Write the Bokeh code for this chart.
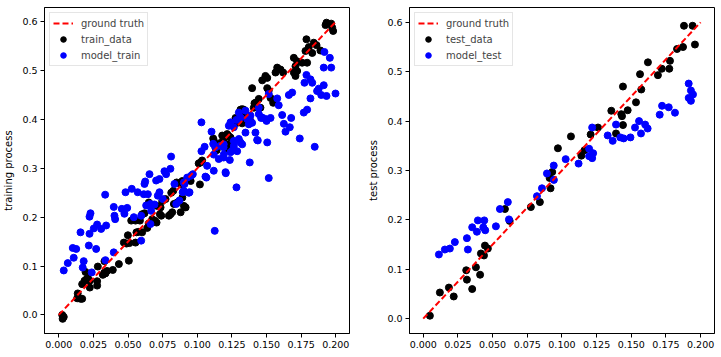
from bokeh.plotting import figure
from bokeh.layouts import row
from bokeh.models import Range1d, FixedTicker, NumeralTickFormatter, Legend, LegendItem
from bokeh.embed import file_html
from bokeh.resources import INLINE

FONT = "DejaVu Sans"

# ---------------- data ----------------
gt_x = [0.0, 0.2]
gt_y = [0.0, 0.6]

x_ticks = [0.0, 0.025, 0.05, 0.075, 0.1, 0.125, 0.15, 0.175, 0.2]
y_ticks = [0.0, 0.1, 0.2, 0.3, 0.4, 0.5, 0.6]

train_pts = [
    (0.0028, -0.008), (0.0036, -0.004), (0.0025, 0.000),
    (0.0133, 0.034), (0.0137, 0.044), (0.0157, 0.033), (0.0169, 0.033),
    (0.0169, 0.063), (0.0186, 0.070), (0.0200, 0.073), (0.0210, 0.076), (0.0224, 0.070),
    (0.0193, 0.088), (0.0224, 0.056), (0.0277, 0.060), (0.0277, 0.069), (0.0282, 0.099),
    (0.0318, 0.082), (0.0330, 0.087), (0.0337, 0.085), (0.0349, 0.090), (0.0330, 0.110),
    (0.0390, 0.092), (0.0434, 0.104), (0.0506, 0.111),
    (0.0470, 0.148), (0.0489, 0.146), (0.0499, 0.163), (0.0510, 0.147), (0.0554, 0.148),
    (0.0561, 0.169), (0.0578, 0.170), (0.0586, 0.193), (0.0602, 0.169), (0.0554, 0.193), (0.0523, 0.193),
    (0.0602, 0.206), (0.0619, 0.208), (0.0639, 0.178), (0.0650, 0.187), (0.0650, 0.230), (0.0658, 0.227),
    (0.0675, 0.196), (0.0692, 0.193), (0.0706, 0.189), (0.0711, 0.223), (0.0735, 0.220), (0.0730, 0.206),
    (0.0740, 0.203), (0.0747, 0.233), (0.0771, 0.237), (0.0795, 0.203), (0.0807, 0.206), (0.0819, 0.210),
    (0.0812, 0.250), (0.0827, 0.254), (0.0831, 0.227), (0.0855, 0.230), (0.0851, 0.271), (0.0880, 0.267),
    (0.0880, 0.210), (0.0892, 0.240), (0.0904, 0.223), (0.0916, 0.220), (0.0892, 0.274), (0.0908, 0.271),
    (0.0940, 0.278), (0.0952, 0.274), (0.1019, 0.267),
    (0.1023, 0.312), (0.1035, 0.316), (0.1120, 0.356), (0.1204, 0.346), (0.1216, 0.339), (0.1180, 0.367),
    (0.1216, 0.370), (0.1190, 0.360), (0.1240, 0.363), (0.1324, 0.392), (0.1372, 0.391), (0.1384, 0.397),
    (0.1307, 0.414), (0.1324, 0.421), (0.1413, 0.433), (0.1444, 0.442), (0.1396, 0.464), (0.1505, 0.464),
    (0.1933, 0.598), (0.1967, 0.596), (0.1926, 0.593), (0.1981, 0.581), (0.1974, 0.588),
    (0.1788, 0.564), (0.1841, 0.557), (0.1861, 0.552), (0.1805, 0.548), (0.1781, 0.540), (0.1889, 0.541),
    (0.1830, 0.536), (0.1697, 0.526), (0.1721, 0.519), (0.1757, 0.516), (0.1793, 0.516), (0.1709, 0.509),
    (0.1577, 0.506), (0.1601, 0.502), (0.1565, 0.496), (0.1620, 0.496), (0.1697, 0.496), (0.1721, 0.499),
    (0.1709, 0.489), (0.1492, 0.489), (0.1505, 0.485), (0.1469, 0.480), (0.1516, 0.459), (0.1529, 0.444),
    (0.1548, 0.434), (0.1420, 0.434), (0.1456, 0.424), (0.1408, 0.424), (0.1336, 0.420), (0.1312, 0.420),
    (0.1348, 0.410), (0.1360, 0.403), (0.1276, 0.403), (0.1288, 0.393), (0.1227, 0.366), (0.1115, 0.361),
    (0.1168, 0.352), (0.1216, 0.349), (0.1252, 0.348), (0.1131, 0.342), (0.1140, 0.337), (0.1010, 0.310),
]
train_x = [p[0] for p in train_pts]
train_y = [p[1] for p in train_pts]

model_train_pts = [
    (0.0036, 0.091), (0.0065, 0.106), (0.0108, 0.117), (0.0101, 0.137), (0.0126, 0.135), (0.0173, 0.097),
    (0.0180, 0.110), (0.0157, 0.169), (0.0217, 0.142), (0.0270, 0.135), (0.0238, 0.087), (0.0222, 0.166),
    (0.0253, 0.177), (0.0277, 0.185), (0.0306, 0.176), (0.0342, 0.183), (0.0222, 0.201), (0.0229, 0.208),
    (0.0335, 0.246), (0.0337, 0.112), (0.0397, 0.221), (0.0402, 0.203), (0.0407, 0.196), (0.0397, 0.128),
    (0.0455, 0.217), (0.0494, 0.219), (0.0474, 0.207), (0.0482, 0.251), (0.0527, 0.258), (0.0542, 0.200),
    (0.0595, 0.203), (0.0570, 0.251), (0.0614, 0.247), (0.0595, 0.152), (0.0619, 0.268), (0.0624, 0.273),
    (0.0655, 0.288), (0.0643, 0.247), (0.0631, 0.224), (0.0662, 0.227), (0.0703, 0.275), (0.0727, 0.278),
    (0.0715, 0.244), (0.0727, 0.251), (0.0751, 0.237), (0.0662, 0.186), (0.0667, 0.213), (0.0691, 0.226),
    (0.0763, 0.294), (0.0775, 0.288), (0.0806, 0.299), (0.0811, 0.324), (0.0835, 0.268), (0.0848, 0.227),
    (0.0871, 0.234), (0.0895, 0.251), (0.0908, 0.268), (0.0944, 0.251), (0.0956, 0.285), (0.0968, 0.288),
    (0.1030, 0.394), (0.1103, 0.375), (0.1030, 0.335), (0.1115, 0.350), (0.1131, 0.343), (0.1167, 0.346),
    (0.1190, 0.343), (0.1155, 0.319), (0.1190, 0.322), (0.1235, 0.317), (0.1071, 0.305), (0.1119, 0.295),
    (0.1204, 0.292), (0.1066, 0.281), (0.1283, 0.261), (0.1379, 0.312), (0.1228, 0.387), (0.1240, 0.394),
    (0.1264, 0.384), (0.1283, 0.399), (0.1300, 0.414), (0.1348, 0.418), (0.1312, 0.404), (0.1360, 0.401),
    (0.1300, 0.360), (0.1312, 0.353), (0.1264, 0.346), (0.1252, 0.336), (0.1240, 0.333), (0.1348, 0.373),
    (0.1420, 0.373), (0.1432, 0.358), (0.1384, 0.408), (0.1444, 0.411), (0.1468, 0.404), (0.1492, 0.401),
    (0.1505, 0.353), (0.1516, 0.280), (0.1516, 0.452),
    (0.1918, 0.538), (0.1957, 0.526), (0.1913, 0.506), (0.1967, 0.506), (0.1788, 0.491), (0.1774, 0.475),
    (0.1817, 0.482), (0.1830, 0.475), (0.1913, 0.470), (0.1877, 0.463), (0.1865, 0.458), (0.1933, 0.448),
    (0.1998, 0.453), (0.1895, 0.450), (0.1661, 0.450), (0.1685, 0.455), (0.1817, 0.443), (0.1577, 0.443),
    (0.1588, 0.429), (0.1793, 0.420), (0.1769, 0.414), (0.1678, 0.403), (0.1613, 0.409), (0.1625, 0.391),
    (0.1668, 0.384), (0.1637, 0.375), (0.1740, 0.361), (0.1848, 0.344), (0.1529, 0.403), (0.1500, 0.397),
    (0.1461, 0.403), (0.1444, 0.424), (0.1396, 0.393), (0.1372, 0.390), (0.1437, 0.357),
    (0.1264, 0.356), (0.1324, 0.349), (0.1288, 0.335), (0.1191, 0.349), (0.1191, 0.328), (0.1119, 0.328),
    (0.1126, 0.172), (0.1206, 0.290), (0.1059, 0.283), (0.0927, 0.281), (0.0903, 0.271), (0.0903, 0.254),
    (0.0939, 0.250), (0.1053, 0.344),
]
model_train_x = [p[0] for p in model_train_pts]
model_train_y = [p[1] for p in model_train_pts]

test_pts = [
    (0.0048, 0.006), (0.0120, 0.053), (0.0185, 0.063), (0.0220, 0.045), (0.0310, 0.098), (0.0315, 0.079),
    (0.0353, 0.060), (0.0380, 0.104), (0.0410, 0.089), (0.0416, 0.132), (0.0438, 0.128), (0.0445, 0.148),
    (0.0466, 0.142), (0.0589, 0.222), (0.0623, 0.198), (0.0776, 0.226), (0.0841, 0.236), (0.0918, 0.264),
    (0.0911, 0.285), (0.0930, 0.297), (0.0971, 0.345), (0.1065, 0.369), (0.1140, 0.330), (0.1163, 0.341),
    (0.1207, 0.373), (0.1260, 0.387), (0.1356, 0.421), (0.1390, 0.375), (0.1428, 0.414), (0.1433, 0.410),
    (0.1440, 0.392), (0.1440, 0.470), (0.1474, 0.422), (0.1534, 0.438), (0.1563, 0.495), (0.1572, 0.464),
    (0.1620, 0.519), (0.1692, 0.493), (0.1720, 0.506), (0.1774, 0.506), (0.1779, 0.522), (0.1830, 0.546),
    (0.1873, 0.550), (0.1880, 0.593), (0.1942, 0.593), (0.1959, 0.555),
]
test_x = [p[0] for p in test_pts]
test_y = [p[1] for p in test_pts]

model_test_pts = [
    (0.0113, 0.130), (0.0156, 0.140), (0.0192, 0.142), (0.0228, 0.155), (0.0315, 0.163), (0.0322, 0.140),
    (0.0353, 0.185), (0.0387, 0.176), (0.0394, 0.199), (0.0433, 0.185), (0.0440, 0.199), (0.0447, 0.179),
    (0.0524, 0.187), (0.0553, 0.222), (0.0610, 0.236), (0.0618, 0.201), (0.0820, 0.248), (0.0856, 0.264),
    (0.0892, 0.294), (0.0942, 0.281), (0.0941, 0.310), (0.1027, 0.323), (0.1120, 0.314), (0.1196, 0.344),
    (0.1196, 0.329), (0.1225, 0.335), (0.1218, 0.325), (0.1218, 0.387), (0.1330, 0.371), (0.1366, 0.360),
    (0.1390, 0.393), (0.1421, 0.367), (0.1445, 0.365), (0.1494, 0.367), (0.1527, 0.387), (0.1556, 0.400),
    (0.1570, 0.375), (0.1600, 0.393), (0.1618, 0.385), (0.1705, 0.413), (0.1722, 0.431), (0.1770, 0.428),
    (0.1815, 0.417), (0.1914, 0.476), (0.1930, 0.462), (0.1945, 0.454), (0.1914, 0.447), (0.1930, 0.441),
]
model_test_x = [p[0] for p in model_test_pts]
model_test_y = [p[1] for p in model_test_pts]


def make_panel(width, border_left, border_right, xr, yr, ylabel,
               dx, dy, mx, my, data_label, model_label):
    p = figure(width=width, height=352, output_backend="svg", toolbar_location=None,
               x_range=Range1d(*xr), y_range=Range1d(*yr),
               min_border_left=border_left, min_border_right=border_right,
               min_border_top=7, min_border_bottom=19)
    p.grid.visible = False
    p.outline_line_color = "black"
    p.outline_line_width = 1
    p.background_fill_color = "white"
    p.border_fill_color = "white"

    p.xaxis.ticker = FixedTicker(ticks=x_ticks)
    p.yaxis.ticker = FixedTicker(ticks=y_ticks)
    p.xaxis.formatter = NumeralTickFormatter(format="0.000")
    p.yaxis.formatter = NumeralTickFormatter(format="0.0")
    for ax in (p.xaxis, p.yaxis):
        ax.major_tick_out = 4
        ax.major_tick_in = 0
        ax.minor_tick_out = 0
        ax.minor_tick_in = 0
        ax.major_label_standoff = 3
        ax.major_label_text_font = FONT
        ax.major_label_text_font_size = "9.5px"
        ax.major_label_text_color = "black"
        ax.axis_line_color = "black"
        ax.major_tick_line_color = "black"
    p.yaxis.axis_label = ylabel
    p.yaxis.axis_label_text_font = FONT
    p.yaxis.axis_label_text_font_size = "10px"
    p.yaxis.axis_label_text_font_style = "normal"
    p.yaxis.axis_label_standoff = 5
    p.yaxis.axis_label_text_color = "black"

    r_data = p.scatter(dx, dy, size=7, line_width=1, color="black", marker="circle")
    r_model = p.scatter(mx, my, size=7, line_width=1, color="blue", marker="circle")
    r_gt = p.line(gt_x, gt_y, line_color="red", line_width=2, line_dash="6 3")

    legend = Legend(items=[
        LegendItem(label="ground truth", renderers=[r_gt]),
        LegendItem(label=data_label, renderers=[r_data]),
        LegendItem(label=model_label, renderers=[r_model]),
    ], location="top_left")
    legend.label_text_font = FONT
    legend.label_text_font_size = "10px"
    legend.glyph_width = 20
    legend.glyph_height = 14
    legend.spacing = 2
    legend.padding = 3
    legend.margin = 5
    legend.label_standoff = 8
    legend.label_height = 14
    legend.border_line_color = "#cccccc"
    legend.border_line_width = 1
    legend.background_fill_alpha = 0.8
    p.add_layout(legend)
    return p


p1 = make_panel(360, 44, 11, (-0.0103, 0.2099), (-0.038, 0.629), "training process",
                train_x, train_y, model_train_x, model_train_y, "train_data", "model_train")
p2 = make_panel(360, 49, 6, (-0.0099, 0.21), (-0.030, 0.630), "test process",
                test_x, test_y, model_test_x, model_test_y, "test_data", "model_test")

layout = row(p1, p2)
open("out.html", "w").write(file_html(layout, INLINE))
